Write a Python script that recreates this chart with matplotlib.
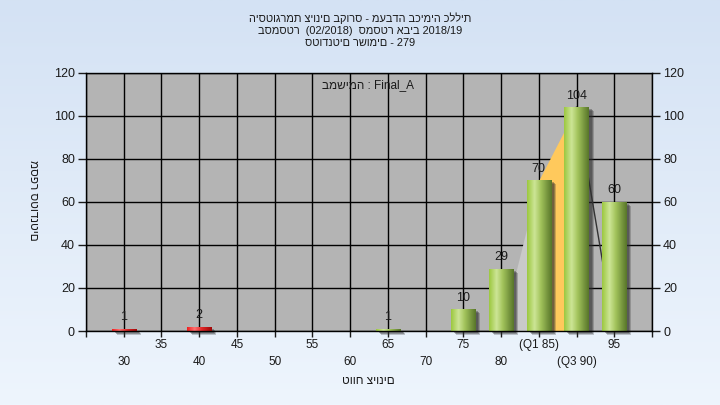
import numpy as np
import matplotlib
matplotlib.use('Agg')
import matplotlib.pyplot as plt
from matplotlib.colors import LinearSegmentedColormap
from matplotlib.patches import Rectangle
from matplotlib import transforms

plt.rcParams['font.family'] = ['Liberation Sans', 'DejaVu Sans']

# ---------------- data ----------------
categories = [30, 35, 40, 45, 50, 55, 60, 65, 70, 75, 80, 85, 90, 95]
counts = [1, 0, 2, 0, 0, 0, 0, 1, 0, 10, 29, 70, 104, 60]
bar_kind = ['fail', 'fail', 'fail', 'fail', 'fail', 'fail', 'pass', 'pass',
            'pass', 'pass', 'pass', 'pass', 'pass', 'pass']
tick_labels = ['30', '35', '40', '45', '50', '55', '60', '65', '70', '75',
               '80', '(Q1 85)', '(Q3 90)', '95']
iqr_x = [80, 85, 90, 95]
iqr_y = [0, 70, 104, 0]
y_ticks = [0, 20, 40, 60, 80, 100, 120]

title_lines = ['היסטוגרמת ציונים בקורס - מעבדה בכימיה כללית',
               'בסמסטר  (02/2018)  סמסטר אביב 2018/19',
               'סטודנטים רשומים - 279']
inner_text = 'במשימה : Final_A'
x_title = 'טווח ציונים'
y_title = 'מספר סטודנטים'

# ---------------- figure ----------------
fig = plt.figure(figsize=(7.2, 4.05), dpi=100)
bg = fig.add_axes([0, 0, 1, 1], zorder=-10)
bg_cmap = LinearSegmentedColormap.from_list('bg', ['#D4E2F4', '#EEF5FD'])
bg.imshow(np.linspace(0, 1, 256).reshape(-1, 1), aspect='auto', cmap=bg_cmap,
          extent=(0, 1, 0, 1))
bg.axis('off')

W, H = 720, 405
ax = fig.add_axes([86 / W, 1 - 331 / H, 566 / W, (331 - 72.7) / H])
ax.set_facecolor('#B4B4B4')
ax.set_axisbelow(True)

# IQR area
fill_cols = ['#C9C9C9', '#FFC95C', None]
for i in range(len(iqr_x) - 1):
    xs = iqr_x[i:i + 2]
    ys = iqr_y[i:i + 2]
    if fill_cols[i]:
        ax.fill_between(xs, ys, color=fill_cols[i], lw=0, zorder=1)
    else:
        ax.plot(xs, ys, color='#333333', lw=1, zorder=1.2)

# bars
width = 3.2
green_cmap = LinearSegmentedColormap.from_list(
    'g', [(0, '#9CC840'), (0.3, '#CDE596'), (0.55, '#A3C45C'), (1, '#58762A')])
red_cmap = LinearSegmentedColormap.from_list(
    'r', [(0, '#F02020'), (0.3, '#FF7070'), (0.6, '#E02828'), (1, '#A00808')])
bars = ax.bar(categories, counts, width=width, color='none', lw=0, zorder=2)
for b, v, kind in zip(bars, counts, bar_kind):
    if v <= 0:
        continue
    x0 = b.get_x()
    for dx, dy, a in [(5, -4, 0.25), (4, -3, 0.35), (3, -2, 0.35)]:
        tr = transforms.offset_copy(ax.transData, fig=fig, x=dx, y=dy, units='dots')
        sh = Rectangle((x0, 0), width, v, transform=tr, facecolor='#303030',
                       alpha=a, lw=0, zorder=1.8, clip_on=False)
        ax.add_patch(sh)
    cmap = green_cmap if kind == 'pass' else red_cmap
    im = ax.imshow(np.linspace(0, 1, 64).reshape(1, -1), cmap=cmap,
                   extent=(x0, x0 + width, 0, v), aspect='auto',
                   interpolation='bilinear', zorder=2.1)
    im.set_clip_path(b)
    ax.annotate(str(v), (b.get_x() + width / 2, v), xytext=(0, 4),
                textcoords='offset points', ha='center', va='bottom',
                fontsize=9, color='#1a1a1a', zorder=3)

ax.set_xlim(25, 100)
ax.set_ylim(0, 120)
ax.set_aspect('auto')

# ticks
ax.set_xticks(categories[::2])
ax.set_xticklabels(tick_labels[::2])
ax.set_xticks([25] + categories[1::2] + [100], minor=True)
ax.set_xticklabels([''] + tick_labels[1::2] + [''], minor=True)
ax.tick_params(axis='x', which='major', length=4, width=1, pad=14,
               labelsize=8.5, colors='#1a1a1a')
ax.tick_params(axis='x', which='minor', length=4, width=1, pad=2,
               labelsize=8.5, colors='#1a1a1a')
ax.set_yticks(y_ticks)
ax.tick_params(axis='y', left=True, right=True, labelleft=True, labelright=True,
               length=6, width=1, pad=2, labelsize=9, colors='#1a1a1a')
ax.grid(True, which='both', axis='x', color='black', lw=1)
ax.grid(True, which='major', axis='y', color='black', lw=1)
for s in ax.spines.values():
    s.set_color('black')
    s.set_linewidth(1)

ax.text((368 - 86) / 566, (331 - 85) / 258.3, inner_text, transform=ax.transAxes,
        ha='center', va='center', fontsize=8.5, color='#1a1a1a')

# titles
for line, y in zip(title_lines, [18, 31, 43]):
    fig.text(0.5, 1 - y / H, line, ha='center', va='center', fontsize=7.9,
             color='#1a1a1a')
fig.text(368 / W, 1 - 381 / H, x_title, ha='center', va='center', fontsize=8.5,
         color='#1a1a1a')
fig.text(33 / W, 1 - 200 / H, y_title, ha='center', va='center', fontsize=8.5,
         rotation=270, color='#1a1a1a')

fig.savefig('out.png', dpi=100)
